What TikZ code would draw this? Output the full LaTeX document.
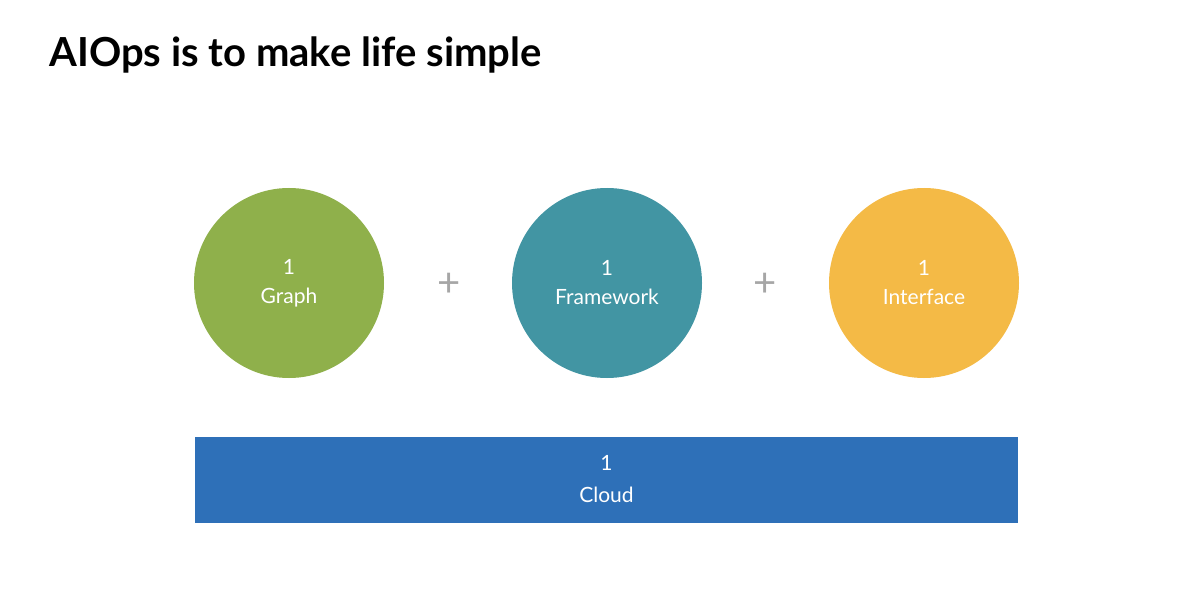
\documentclass[tikz,border=0pt]{standalone}
\usepackage{fontspec}
\setmainfont{Lato}
\begin{document}
\begin{tikzpicture}[x=1pt,y=-1pt,
  circ/.style={circle,minimum size=190pt,inner sep=0pt,text=white,font=\fontsize{21}{29}\selectfont,align=center},
  plus/.style={text=gray!70,font=\fontsize{40}{40}\selectfont}]
\useasboundingbox[fill=white] (0,0) rectangle (1200,615);
\node[anchor=base west,font=\fontsize{40}{48}\bfseries\selectfont] (title) at (46,67) {AIOps is to make life simple};
\node[circ,fill={rgb,255:red,143;green,176;blue,75}] (g) at (289,283) {1\\Graph};
\node[circ,fill={rgb,255:red,66;green,149;blue,163}] (f) at (607,283) {1\\Framework};
\node[circ,fill={rgb,255:red,244;green,186;blue,70}] (i) at (924,283) {1\\Interface};
\node[plus] (p1) at (449,285) {+};
\node[plus] (p2) at (765,285) {+};
\node[fill={rgb,255:red,46;green,112;blue,184},minimum width=823pt,minimum height=86pt,inner sep=0pt,text=white,font=\fontsize{21}{32}\selectfont,align=center] (c) at (606.5,479.5) {1\\Cloud};
\end{tikzpicture}
\end{document}
